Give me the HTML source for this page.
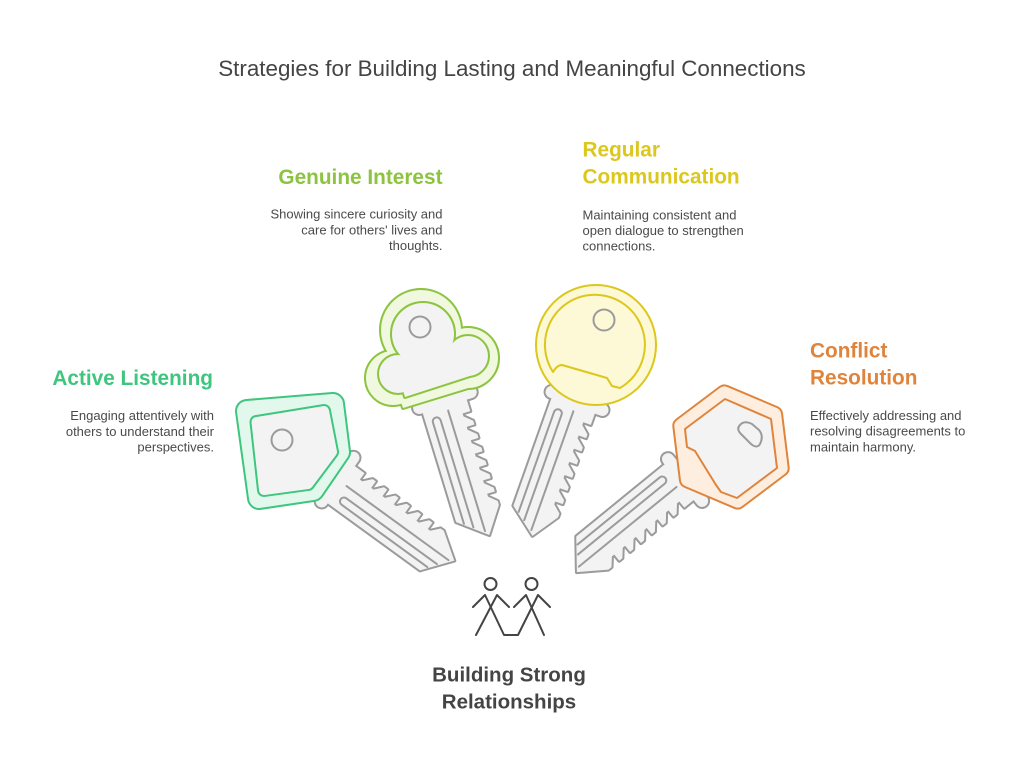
<!DOCTYPE html>
<html>
<head>
<meta charset="utf-8">
<style>
  html,body{margin:0;padding:0;background:#fff;}
  svg{display:block;}
  text{font-family:"Liberation Sans", Arial, sans-serif;}
</style>
</head>
<body>
<svg width="1024" height="769" viewBox="0 0 1024 769" xmlns="http://www.w3.org/2000/svg">
  <defs>
    <g id="shaft">
      <g fill="#f3f3f3" stroke="#9b9b9b" stroke-width="4" stroke-linejoin="round">
        <rect x="-30" y="0" width="66" height="12" rx="6"/>
        <path d="M -22 8 L -22 126 L 6 148 L 24 122 L 24 118 L 16 111 L 16 108 L 24 108 L 24 104 L 16 97 L 16 94 L 24 94 L 24 90 L 16 83 L 16 80 L 24 80 L 24 76 L 16 69 L 16 66 L 24 66 L 24 62 L 16 55 L 16 52 L 24 52 L 24 48 L 16 41 L 16 38 L 24 38 L 24 34 L 16 27 L 16 24 L 24 24 L 24 8 Z"/>
      </g>
      <g fill="#f3f3f3">
        <rect x="-30" y="0" width="66" height="12" rx="6"/>
        <path d="M -22 8 L -22 126 L 6 148 L 24 122 L 24 118 L 16 111 L 16 108 L 24 108 L 24 104 L 16 97 L 16 94 L 24 94 L 24 90 L 16 83 L 16 80 L 24 80 L 24 76 L 16 69 L 16 66 L 24 66 L 24 62 L 16 55 L 16 52 L 24 52 L 24 48 L 16 41 L 16 38 L 24 38 L 24 34 L 16 27 L 16 24 L 24 24 L 24 8 Z"/>
      </g>
      <path d="M -15 130 L -15 24 A 4 4 0 0 1 -7 24 L -7 136" fill="none" stroke="#9b9b9b" stroke-width="2" stroke-linecap="round"/>
      <path d="M 3 17 L 3 143" fill="none" stroke="#9b9b9b" stroke-width="2" stroke-linecap="round"/>
    </g>
  </defs>

  <!-- Title -->
  <text x="512" y="76" text-anchor="middle" font-size="22.4" fill="#444">Strategies for Building Lasting and Meaningful Connections</text>

  <!-- Key 1 (green) -->
  <use href="#shaft" transform="translate(331,478.5) rotate(-54)"/>
  <polygon points="247,411 333,404 339,452 313,490 259,498" fill="#3ec57e" stroke="#3ec57e" stroke-width="24" stroke-linejoin="round"/>
  <polygon points="247,411 333,404 339,452 313,490 259,498" fill="#e2f8ec" stroke="#e2f8ec" stroke-width="20" stroke-linejoin="round"/>
  <polygon points="256.5,422 324,411 332,452 308,484 264,490" fill="#3ec57e" stroke="#3ec57e" stroke-width="14" stroke-linejoin="round"/>
  <polygon points="256.5,422 324,411 332,452 308,484 264,490" fill="#f3f3f3" stroke="#f3f3f3" stroke-width="10" stroke-linejoin="round"/>
  <circle cx="282" cy="440" r="10.5" fill="#f3f3f3" stroke="#9b9b9b" stroke-width="2"/>

  <!-- Key 2 (lime, cloud) -->
  <use href="#shaft" transform="translate(440.3,395.2) rotate(-17)"/>
  <g fill="#8cc43f" stroke="#8cc43f" stroke-width="4" stroke-linejoin="round">
    <circle cx="421" cy="330" r="40"/>
    <circle cx="468" cy="358" r="30"/>
    <circle cx="393" cy="378" r="27"/>
    <polygon points="393,378 421,330 468,358 478,385 403,408"/>
  </g>
  <g fill="#f0f8e0">
    <circle cx="421" cy="330" r="40"/>
    <circle cx="468" cy="358" r="30"/>
    <circle cx="393" cy="378" r="27"/>
    <polygon points="393,378 421,330 468,358 478,385 403,408"/>
  </g>
  <g fill="#8cc43f" stroke="#8cc43f" stroke-width="4" stroke-linejoin="round">
    <circle cx="423" cy="334" r="31"/>
    <circle cx="468" cy="356" r="20"/>
    <circle cx="398" cy="374" r="19"/>
    <polygon points="398,374 423,334 468,356 476,374 405,397"/>
  </g>
  <g fill="#f3f3f3">
    <circle cx="423" cy="334" r="31"/>
    <circle cx="468" cy="356" r="20"/>
    <circle cx="398" cy="374" r="19"/>
    <polygon points="398,374 423,334 468,356 476,374 405,397"/>
  </g>
  <circle cx="420" cy="327" r="10.5" fill="#f3f3f3" stroke="#9b9b9b" stroke-width="2"/>

  <!-- Key 3 (yellow, circle) -->
  <use href="#shaft" transform="translate(576.2,394.3) rotate(19.5)"/>
  <circle cx="596" cy="345" r="60" fill="#fdf8d6" stroke="#dcc71c" stroke-width="2"/>
  <path d="M 553 372 A 50 50 0 1 1 620 388 L 612 386 L 607 378 L 562 365 Q 557 365 553 372 Z" fill="#fdf8d6" stroke="#dcc71c" stroke-width="2" stroke-linejoin="round"/>
  <circle cx="604" cy="320" r="10.5" fill="#fdf8d6" stroke="#9b9b9b" stroke-width="2"/>

  <!-- Key 4 (orange, hexagon) -->
  <use href="#shaft" transform="translate(687.8,473.9) rotate(50.8)"/>
  <polygon points="724.4,393.4 774.1,414.5 780.7,468.1 737.6,500.6 687.9,479.5 681.3,425.9" fill="#e0843b" stroke="#e0843b" stroke-width="18" stroke-linejoin="round"/>
  <polygon points="724.4,393.4 774.1,414.5 780.7,468.1 737.6,500.6 687.9,479.5 681.3,425.9" fill="#fdeee0" stroke="#fdeee0" stroke-width="14" stroke-linejoin="round"/>
  <path d="M 685 429 L 725 399 L 771 419 L 777 468 L 737 498 L 721 492 L 716 485 L 695 451 L 687 447 Z" fill="#f3f3f3" stroke="#e0843b" stroke-width="2" stroke-linejoin="round"/>
  <path d="M 740 425 Q 744 420 752 424 L 759 430 Q 764 436 760 444 Q 757 449 751 444 L 741 434 Q 736 429 740 425 Z" fill="#f3f3f3" stroke="#9b9b9b" stroke-width="2" stroke-linejoin="round"/>

  <!-- People icon -->
  <g fill="none" stroke="#444" stroke-width="2" stroke-linecap="round" stroke-linejoin="round">
    <circle cx="490.5" cy="584" r="6"/>
    <circle cx="531.5" cy="584" r="6"/>
    <polyline points="473,607 485,595 504,635 518,635 538,595 550,607"/>
    <polyline points="509,607 497,595 476,635"/>
    <polyline points="514,607 526,595 544,635"/>
  </g>

  <!-- Labels -->
  <text x="213" y="385" text-anchor="end" font-size="20.8" font-weight="bold" fill="#3ec57e">Active Listening</text>
  <g font-size="13" fill="#4a4a4a" text-anchor="end">
    <text x="214" y="420">Engaging attentively with</text>
    <text x="214" y="436">others to understand their</text>
    <text x="214" y="451.5">perspectives.</text>
  </g>

  <text x="442.5" y="184" text-anchor="end" font-size="20.8" font-weight="bold" fill="#8cc43f">Genuine Interest</text>
  <g font-size="13" fill="#4a4a4a" text-anchor="end">
    <text x="442.5" y="218.5">Showing sincere curiosity and</text>
    <text x="442.5" y="234.3">care for others' lives and</text>
    <text x="442.5" y="250">thoughts.</text>
  </g>

  <g font-size="20.8" font-weight="bold" fill="#dcc71c">
    <text x="582.5" y="156.7">Regular</text>
    <text x="582.5" y="183.3">Communication</text>
  </g>
  <g font-size="13" fill="#4a4a4a">
    <text x="582.5" y="219.3">Maintaining consistent and</text>
    <text x="582.5" y="235">open dialogue to strengthen</text>
    <text x="582.5" y="250.7">connections.</text>
  </g>

  <g font-size="20.8" font-weight="bold" fill="#e0843b">
    <text x="810" y="357.7">Conflict</text>
    <text x="810" y="384.3">Resolution</text>
  </g>
  <g font-size="13" fill="#4a4a4a">
    <text x="810" y="420">Effectively addressing and</text>
    <text x="810" y="435.7">resolving disagreements to</text>
    <text x="810" y="451.5">maintain harmony.</text>
  </g>

  <g font-size="20.5" font-weight="bold" fill="#444" text-anchor="middle">
    <text x="509" y="681.7">Building Strong</text>
    <text x="509" y="708.3">Relationships</text>
  </g>
</svg>
</body>
</html>
